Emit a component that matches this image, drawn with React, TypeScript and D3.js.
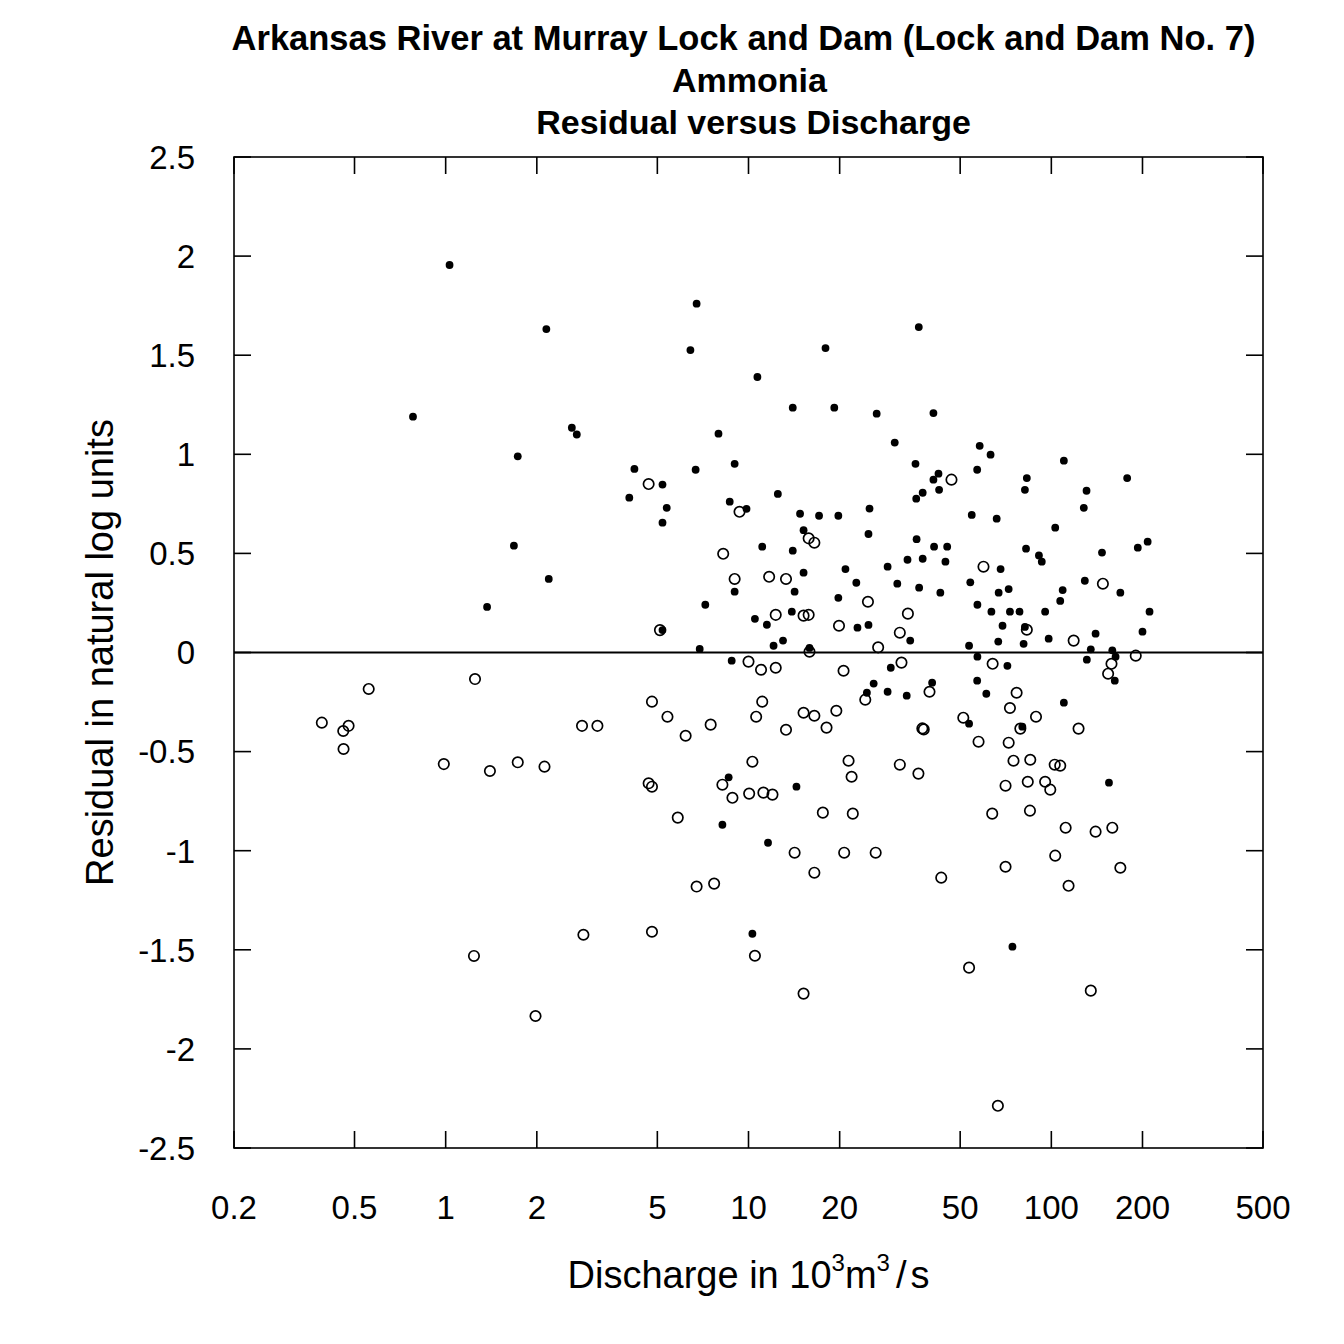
import React from "react";
import * as d3 from "d3";

// Filled symbols: [discharge (10^3 m3/s), residual]
const filledQ = [1.03,2.15,0.78,2.61,2.71,1.73,1.68,2.19,1.37,6.74,6.43,10.7,14.0,7.96,4.2,6.69,9.0,5.2,4.04,5.37,5.2,8.67,9.85,12.5,14.8,36.5,17.96,19.2,26.5,40.8,30.4,35.6,42.4,40.8,42.6,37.6,35.8,58,56.9,54.6,25.1,24.9,35.9,17.1,19.8,15.2,63,110,83,81.8,178,130.7,128,66,103,208,193,82.5,91,93,147,68,54,129,169,67,72.3,109,107,211,57,63.4,73,78.5,95.4,69,81.8,98,140,200,66.8,81,135,159,163,57,131,71.6,162,56.9,61,110,80.2,155,74.4,11.1,14.0,41,45.3,33.5,37.6,44.7,28.8,20.9,15.2,22.7,31,36.6,43,14.2,19.8,13.9,22.9,24.9,34.2,53.5,15.9,29.5,25.9,40.4,28.8,33.3,24.6,53.5,14.4,8.6,8.2,11.6,10.3,9.0,7.2,10.5,11.5,5.2,13.0,12.1,6.9,8.8];
const filledR = [1.955,1.632,1.19,1.134,1.10,0.99,0.539,0.371,0.23,1.76,1.526,1.39,1.235,1.104,0.926,0.922,0.952,0.847,0.781,0.73,0.655,0.761,0.725,0.80,0.70,1.642,1.536,1.235,1.205,1.208,1.059,0.952,0.902,0.872,0.821,0.806,0.776,1.043,0.922,0.694,0.726,0.598,0.572,0.69,0.69,0.617,0.998,0.968,0.88,0.821,0.88,0.816,0.73,0.675,0.63,0.559,0.529,0.524,0.49,0.458,0.504,0.421,0.354,0.362,0.302,0.302,0.32,0.315,0.26,0.206,0.241,0.206,0.206,0.206,0.206,0.135,0.129,0.07,0.095,0.105,0.055,0.044,0.016,0.011,-0.021,-0.021,-0.036,-0.067,-0.142,-0.142,-0.208,-0.253,-0.374,-0.657,-1.484,0.534,0.514,0.534,0.534,0.468,0.473,0.458,0.433,0.421,0.403,0.352,0.347,0.327,0.302,0.307,0.276,0.206,0.125,0.139,0.06,0.034,0.023,-0.077,-0.157,-0.152,-0.198,-0.218,-0.203,-0.359,-0.677,-0.63,-0.869,-0.96,-1.419,0.307,0.241,0.17,0.14,0.113,0.06,0.034,0.018,-0.041];

// Open symbols: [discharge (10^3 m3/s), residual]
const openQ = [1.25,0.557,0.39,0.478,0.459,0.46,2.82,3.17,0.986,1.40,1.73,2.12,2.85,1.24,1.98,4.68,9.34,46.8,15.8,16.5,59.7,148,83,118.5,190,64,158,154,76.8,73,89,79,123,57.5,72.3,75,85.2,102.6,107,70.6,83.6,95.4,99.2,63.8,85,111.5,140,159,103,70.6,169,114,53.5,135,66.6,24.8,15.2,15.8,33.6,19.9,31.6,15.9,26.8,20.6,32,39.6,24.3,15.2,16.5,19.5,18.1,37.5,37.9,51.2,21.4,21.9,31.6,36.4,17.6,22.1,14.2,20.7,26.3,16.5,43.3,15.2,4.68,4.8,8.2,8.85,10.05,11.2,12.0,5.84,6.74,7.7,4.8,10.5,8.25,9.0,11.7,13.3,12.3,5.1,10.0,11.0,12.3,4.8,11.1,5.4,10.6,7.5,6.2,13.3,10.3];
const openR = [-0.134,-0.184,-0.354,-0.37,-0.396,-0.487,-0.37,-0.37,-0.563,-0.598,-0.554,-0.576,-1.424,-1.531,-1.834,0.85,0.71,0.872,0.576,0.554,0.433,0.347,0.115,0.06,-0.016,-0.057,-0.057,-0.107,-0.203,-0.28,-0.324,-0.384,-0.384,-0.45,-0.455,-0.546,-0.541,-0.566,-0.571,-0.672,-0.652,-0.652,-0.692,-0.813,-0.798,-0.884,-0.904,-0.884,-1.025,-1.081,-1.086,-1.177,-1.59,-1.706,-2.287,0.256,0.186,0.19,0.196,0.135,0.1,0.004,0.026,-0.092,-0.051,-0.198,-0.238,-0.304,-0.319,-0.294,-0.379,-0.383,-0.388,-0.329,-0.546,-0.627,-0.566,-0.611,-0.808,-0.813,-1.01,-1.01,-1.01,-1.111,-1.136,-1.721,-0.66,-0.677,-0.667,-0.733,-0.712,-0.707,-0.717,-0.833,-1.181,-1.166,-1.409,-1.53,0.498,0.371,0.382,0.371,0.19,0.113,-0.046,-0.087,-0.077,-0.248,-0.248,-0.324,-0.324,-0.364,-0.42,-0.39,-0.551];

const xTicks = [0.2, 0.5, 1, 2, 5, 10, 20, 50, 100, 200, 500];
const xTickLabels = ["0.2", "0.5", "1", "2", "5", "10", "20", "50", "100", "200", "500"];
const yTicks = [-2.5, -2, -1.5, -1, -0.5, 0, 0.5, 1, 1.5, 2, 2.5];
const yTickLabels = ["-2.5", "-2", "-1.5", "-1", "-0.5", "0", "0.5", "1", "1.5", "2", "2.5"];
const titleLines = [
  "Arkansas River at Murray Lock and Dam (Lock and Dam No. 7)",
  "Ammonia",
  "Residual versus Discharge",
];
const titleShift = [-5, 1, 5];

export default function App() {
  const L = 234, R = 1263, T = 157, B = 1148;
  const x = d3.scaleLog().domain([0.2, 500]).range([L, R]);
  const y = d3.scaleLinear().domain([-2.5, 2.5]).range([B, T]);
  const font = "'Liberation Sans', Arial, sans-serif";
  const tl = 17;
  const filled = filledQ.map((q, i) => [q, filledR[i]]);
  const open = openQ.map((q, i) => [q, openR[i]]);
  const cx = (L + R) / 2;
  return (
    <svg width={1344} height={1344} style={{ position: "absolute", left: 0, top: 0, background: "#fff" }} fontFamily={font}>
      <rect x={0} y={0} width={1344} height={1344} fill="#fff" />
      {titleLines.map((t, i) => (
        <text key={i} x={cx + titleShift[i]} y={50 + i * 42} textAnchor="middle" fontWeight="bold" fontSize={i === 0 ? 34.5 : 34}>{t}</text>
      ))}
      <rect x={L} y={T} width={R - L} height={B - T} fill="none" stroke="#000" strokeWidth={1.6} />
      {xTicks.map((v, i) => (
        <g key={"x" + i}>
          <line x1={x(v)} x2={x(v)} y1={B} y2={B - tl} stroke="#000" strokeWidth={1.6} />
          <line x1={x(v)} x2={x(v)} y1={T} y2={T + tl} stroke="#000" strokeWidth={1.6} />
          <text x={x(v)} y={1219} textAnchor="middle" fontSize={33}>{xTickLabels[i]}</text>
        </g>
      ))}
      {yTicks.map((v, i) => (
        <g key={"y" + i}>
          <line x1={L} x2={L + tl} y1={y(v)} y2={y(v)} stroke="#000" strokeWidth={1.6} />
          <line x1={R} x2={R - tl} y1={y(v)} y2={y(v)} stroke="#000" strokeWidth={1.6} />
          <text x={195} y={y(v)} dy="0.36em" textAnchor="end" fontSize={33}>{yTickLabels[i]}</text>
        </g>
      ))}
      <line x1={L} x2={R} y1={y(0)} y2={y(0)} stroke="#000" strokeWidth={1.8} />
      {open.map((d, i) => (
        <circle key={"o" + i} cx={x(d[0])} cy={y(d[1])} r={5.2} fill="none" stroke="#000" strokeWidth={1.7} />
      ))}
      {filled.map((d, i) => (
        <circle key={"f" + i} cx={x(d[0])} cy={y(d[1])} r={3.9} fill="#000" />
      ))}
      <text x={cx} y={1288} textAnchor="middle" fontSize={38}>
        Discharge in 10<tspan dy={-17} fontSize={24}>3</tspan><tspan dy={17}>m</tspan><tspan dy={-17} fontSize={24}>3</tspan><tspan dy={17} dx={6}>/</tspan><tspan dx={4}>s</tspan>
      </text>
      <text transform={`translate(113, ${(T + B) / 2}) rotate(-90)`} textAnchor="middle" fontSize={38}>
        Residual in natural log units
      </text>
    </svg>
  );
}
